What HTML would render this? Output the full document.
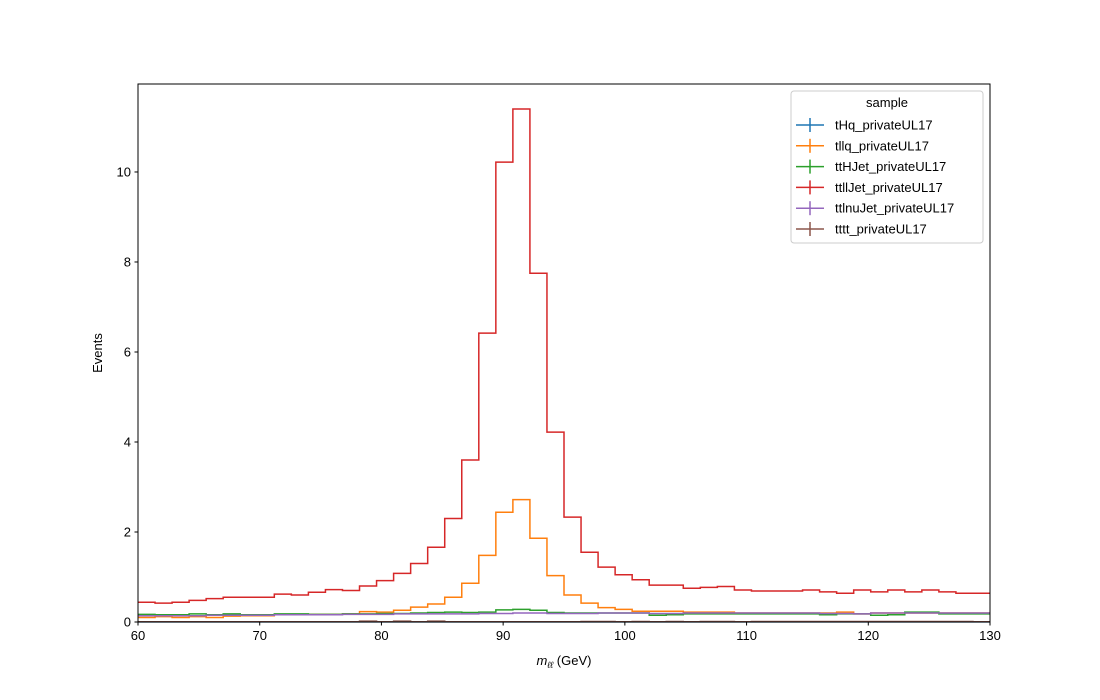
<!DOCTYPE html>
<html><head><meta charset="utf-8"><style>
html,body{margin:0;padding:0;background:#fff;}
svg{display:block;font-family:"Liberation Sans","DejaVu Sans",sans-serif;}
</style></head><body>
<svg id="chart" width="1100" height="700" viewBox="0 0 1100 700" xmlns="http://www.w3.org/2000/svg">
<rect width="1100" height="700" fill="#fff"/>
<g id="series"></g>
<rect x="138" y="84" width="852" height="538" fill="none" stroke="#000" stroke-width="1"/>
<g id="axes"></g>
<text x="564" y="665" font-size="13" text-anchor="middle"><tspan font-style="italic">m</tspan><tspan font-style="italic" font-size="9" dy="3">ℓℓ</tspan><tspan dy="-3"> (GeV)</tspan></text>
<text transform="translate(102,353) rotate(-90)" font-size="13" text-anchor="middle">Events</text>
<g id="legend">
<rect x="791" y="91" width="192" height="152" rx="3" fill="#fff" fill-opacity="0.8" stroke="#ccc"/>
<text x="887" y="107" font-size="13" text-anchor="middle">sample</text>
</g>
</svg>
<script>
const edgesStart = 60, binWidth = 1.4;
const seriesNames = ["tHq_privateUL17","tllq_privateUL17","ttHJet_privateUL17","ttllJet_privateUL17","ttlnuJet_privateUL17","tttt_privateUL17"];
const seriesColors = ["#1f77b4","#ff7f0e","#2ca02c","#d62728","#9467bd","#8c564b"];
const tHqValues = Array(50).fill(0.002);
const tllqValues = [0.10,0.12,0.10,0.12,0.10,0.13,0.14,0.14,0.16,0.16,0.17,0.17,0.18,0.23,0.22,0.26,0.33,0.40,0.55,0.86,1.48,2.44,2.72,1.86,1.03,0.60,0.42,0.32,0.28,0.24,0.24,0.24,0.22,0.22,0.22,0.20,0.20,0.20,0.20,0.20,0.20,0.22,0.18,0.20,0.20,0.20,0.20,0.20,0.20,0.20];
const ttHValues = [0.17,0.16,0.16,0.18,0.16,0.18,0.16,0.16,0.18,0.18,0.17,0.17,0.18,0.18,0.19,0.19,0.20,0.21,0.22,0.21,0.22,0.27,0.28,0.26,0.21,0.20,0.20,0.20,0.20,0.20,0.15,0.16,0.18,0.18,0.18,0.18,0.18,0.18,0.18,0.18,0.16,0.18,0.18,0.15,0.16,0.22,0.22,0.18,0.18,0.18];
const ttllValues = [0.44,0.42,0.44,0.48,0.52,0.55,0.55,0.55,0.62,0.60,0.66,0.72,0.70,0.80,0.92,1.08,1.30,1.66,2.30,3.60,6.42,10.22,11.40,7.75,4.22,2.33,1.55,1.22,1.05,0.94,0.82,0.82,0.75,0.77,0.79,0.71,0.69,0.69,0.69,0.71,0.67,0.64,0.71,0.67,0.71,0.67,0.71,0.67,0.64,0.64];
const ttlnuValues = [0.14,0.14,0.14,0.14,0.15,0.15,0.15,0.15,0.16,0.16,0.16,0.16,0.17,0.17,0.17,0.18,0.18,0.18,0.18,0.18,0.19,0.19,0.20,0.20,0.19,0.19,0.19,0.20,0.20,0.20,0.19,0.19,0.20,0.20,0.20,0.20,0.20,0.20,0.20,0.20,0.19,0.19,0.18,0.20,0.20,0.20,0.20,0.20,0.20,0.20];
const ttttValues = [0.005,0.005,0.005,0.005,0.005,0.005,0.005,0.005,0.005,0.005,0.005,0.005,0.005,0.02,0.005,0.02,0.005,0.02,0.005,0.005,0.005,0.005,0.005,0.005,0.005,0.005,0.01,0.01,0.005,0.01,0.005,0.01,0.005,0.01,0.01,0.005,0.01,0.01,0.01,0.01,0.01,0.01,0.01,0.01,0.01,0.01,0.01,0.01,0.01,0.005];
const xTicks = [60,70,80,90,100,110,120,130];
const yTicks = [0,2,4,6,8,10];
const allSeries = [tHqValues,tllqValues,ttHValues,ttllValues,ttlnuValues,ttttValues];

const X0=138,X1=990,Y0=622,Y1=84,xMin=60,xMax=130,yMin=0,yMax=11.955;
const xs = v => X0 + (v-xMin)/(xMax-xMin)*(X1-X0);
const ys = v => Y0 - (v-yMin)/(yMax-yMin)*(Y0-Y1);
const NS="http://www.w3.org/2000/svg";
const mk=(t,a)=>{const e=document.createElementNS(NS,t);for(const k in a)e.setAttribute(k,a[k]);return e;};

const sg=document.getElementById('series');
allSeries.forEach((vals,si)=>{
  let d="";
  vals.forEach((v,i)=>{
    const a=xs(edgesStart+i*binWidth), b=xs(edgesStart+(i+1)*binWidth), y=ys(v);
    d += (i===0?"M":"L")+a.toFixed(2)+","+y.toFixed(2)+" L"+b.toFixed(2)+","+y.toFixed(2)+" ";
  });
  const p=mk('path',{d:d,fill:'none',stroke:seriesColors[si],'stroke-width':1.5});
  
  
  sg.appendChild(p);
});

const ax=document.getElementById('axes');
xTicks.forEach(t=>{
  const x=xs(t);
  const l=mk('line',{x1:x,x2:x,y1:Y0,y2:Y0+3.5,stroke:'#000'});
  
  
  ax.appendChild(l);
  const tx=mk('text',{x:x,y:Y0+18,'font-size':13,'text-anchor':'middle'});
  
  
  tx.textContent=t; ax.appendChild(tx);
});
yTicks.forEach(t=>{
  const y=ys(t);
  const l=mk('line',{x1:X0-3.5,x2:X0,y1:y,y2:y,stroke:'#000'});
  
  
  ax.appendChild(l);
  const tx=mk('text',{x:X0-7,y:y+4.5,'font-size':13,'text-anchor':'end'});
  
  
  tx.textContent=t; ax.appendChild(tx);
});

const lg=document.getElementById('legend');
seriesNames.forEach((n,i)=>{
  const y=125+i*20.8;
  const g=mk('g',{});
  
  
  g.appendChild(mk('line',{x1:796,x2:824,y1:y,y2:y,stroke:seriesColors[i],'stroke-width':1.5}));
  g.appendChild(mk('line',{x1:810,x2:810,y1:y-7,y2:y+7,stroke:seriesColors[i],'stroke-width':1.5}));
  const t=mk('text',{x:835,y:y+4.5,'font-size':13});
  t.textContent=n; g.appendChild(t);
  lg.appendChild(g);
});
</script>
</body></html>
